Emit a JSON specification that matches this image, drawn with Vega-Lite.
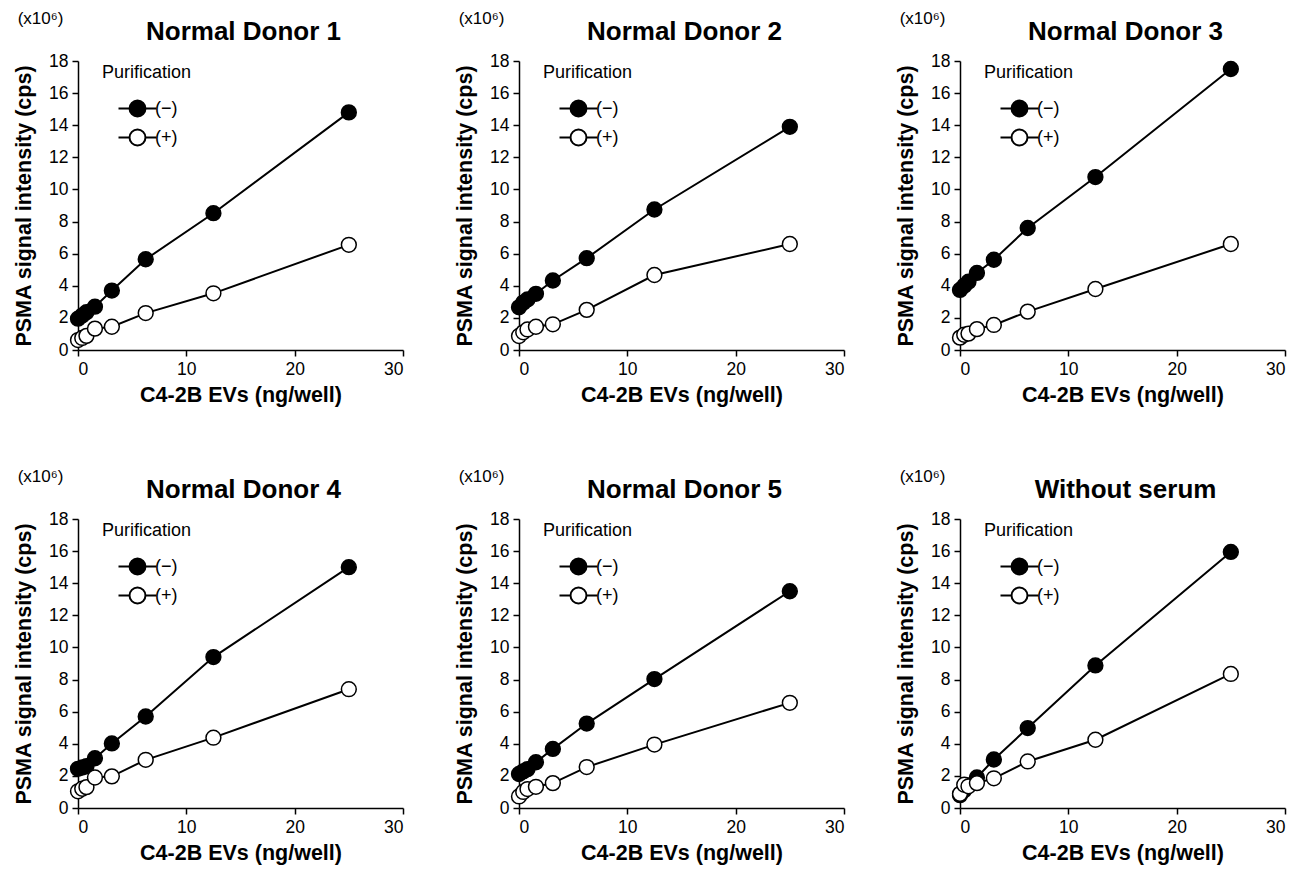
{
  "$schema": "https://vega.github.io/schema/vega-lite/v6.json",
  "background": "white",
  "padding": {"left": 13, "top": 9, "right": 8, "bottom": 5},
  "datasets": {
    "d": [
      {"p":1,"s":"(−)","x":0,"y":1.95},{"p":1,"s":"(−)","x":0.390625,"y":2.15},{"p":1,"s":"(−)","x":0.78125,"y":2.35},{"p":1,"s":"(−)","x":1.5625,"y":2.7},{"p":1,"s":"(−)","x":3.125,"y":3.7},{"p":1,"s":"(−)","x":6.25,"y":5.65},{"p":1,"s":"(−)","x":12.5,"y":8.52},{"p":1,"s":"(−)","x":25,"y":14.8},
      {"p":1,"s":"(+)","x":0,"y":0.62},{"p":1,"s":"(+)","x":0.390625,"y":0.75},{"p":1,"s":"(+)","x":0.78125,"y":0.88},{"p":1,"s":"(+)","x":1.5625,"y":1.33},{"p":1,"s":"(+)","x":3.125,"y":1.45},{"p":1,"s":"(+)","x":6.25,"y":2.3},{"p":1,"s":"(+)","x":12.5,"y":3.53},{"p":1,"s":"(+)","x":25,"y":6.55},
      {"p":2,"s":"(−)","x":0,"y":2.66},{"p":2,"s":"(−)","x":0.390625,"y":2.95},{"p":2,"s":"(−)","x":0.78125,"y":3.15},{"p":2,"s":"(−)","x":1.5625,"y":3.5},{"p":2,"s":"(−)","x":3.125,"y":4.33},{"p":2,"s":"(−)","x":6.25,"y":5.72},{"p":2,"s":"(−)","x":12.5,"y":8.75},{"p":2,"s":"(−)","x":25,"y":13.9},
      {"p":2,"s":"(+)","x":0,"y":0.87},{"p":2,"s":"(+)","x":0.390625,"y":1.1},{"p":2,"s":"(+)","x":0.78125,"y":1.28},{"p":2,"s":"(+)","x":1.5625,"y":1.45},{"p":2,"s":"(+)","x":3.125,"y":1.6},{"p":2,"s":"(+)","x":6.25,"y":2.5},{"p":2,"s":"(+)","x":12.5,"y":4.67},{"p":2,"s":"(+)","x":25,"y":6.6},
      {"p":3,"s":"(−)","x":0,"y":3.74},{"p":3,"s":"(−)","x":0.390625,"y":4.0},{"p":3,"s":"(−)","x":0.78125,"y":4.25},{"p":3,"s":"(−)","x":1.5625,"y":4.8},{"p":3,"s":"(−)","x":3.125,"y":5.62},{"p":3,"s":"(−)","x":6.25,"y":7.6},{"p":3,"s":"(−)","x":12.5,"y":10.77},{"p":3,"s":"(−)","x":25,"y":17.5},
      {"p":3,"s":"(+)","x":0,"y":0.77},{"p":3,"s":"(+)","x":0.390625,"y":0.95},{"p":3,"s":"(+)","x":0.78125,"y":1.02},{"p":3,"s":"(+)","x":1.5625,"y":1.3},{"p":3,"s":"(+)","x":3.125,"y":1.56},{"p":3,"s":"(+)","x":6.25,"y":2.39},{"p":3,"s":"(+)","x":12.5,"y":3.8},{"p":3,"s":"(+)","x":25,"y":6.6},
      {"p":4,"s":"(−)","x":0,"y":2.44},{"p":4,"s":"(−)","x":0.390625,"y":2.52},{"p":4,"s":"(−)","x":0.78125,"y":2.6},{"p":4,"s":"(−)","x":1.5625,"y":3.1},{"p":4,"s":"(−)","x":3.125,"y":4.02},{"p":4,"s":"(−)","x":6.25,"y":5.7},{"p":4,"s":"(−)","x":12.5,"y":9.4},{"p":4,"s":"(−)","x":25,"y":15.0},
      {"p":4,"s":"(+)","x":0,"y":1.04},{"p":4,"s":"(+)","x":0.390625,"y":1.2},{"p":4,"s":"(+)","x":0.78125,"y":1.3},{"p":4,"s":"(+)","x":1.5625,"y":1.9},{"p":4,"s":"(+)","x":3.125,"y":1.97},{"p":4,"s":"(+)","x":6.25,"y":3.0},{"p":4,"s":"(+)","x":12.5,"y":4.38},{"p":4,"s":"(+)","x":25,"y":7.4},
      {"p":5,"s":"(−)","x":0,"y":2.12},{"p":5,"s":"(−)","x":0.390625,"y":2.28},{"p":5,"s":"(−)","x":0.78125,"y":2.42},{"p":5,"s":"(−)","x":1.5625,"y":2.85},{"p":5,"s":"(−)","x":3.125,"y":3.68},{"p":5,"s":"(−)","x":6.25,"y":5.26},{"p":5,"s":"(−)","x":12.5,"y":8.03},{"p":5,"s":"(−)","x":25,"y":13.5},
      {"p":5,"s":"(+)","x":0,"y":0.72},{"p":5,"s":"(+)","x":0.390625,"y":1.0},{"p":5,"s":"(+)","x":0.78125,"y":1.18},{"p":5,"s":"(+)","x":1.5625,"y":1.32},{"p":5,"s":"(+)","x":3.125,"y":1.55},{"p":5,"s":"(+)","x":6.25,"y":2.55},{"p":5,"s":"(+)","x":12.5,"y":3.95},{"p":5,"s":"(+)","x":25,"y":6.55},
      {"p":6,"s":"(−)","x":0,"y":0.8},{"p":6,"s":"(−)","x":0.390625,"y":1.1},{"p":6,"s":"(−)","x":0.78125,"y":1.4},{"p":6,"s":"(−)","x":1.5625,"y":1.9},{"p":6,"s":"(−)","x":3.125,"y":3.02},{"p":6,"s":"(−)","x":6.25,"y":4.98},{"p":6,"s":"(−)","x":12.5,"y":8.88},{"p":6,"s":"(−)","x":25,"y":15.95},
      {"p":6,"s":"(+)","x":0,"y":0.88},{"p":6,"s":"(+)","x":0.390625,"y":1.45},{"p":6,"s":"(+)","x":0.78125,"y":1.35},{"p":6,"s":"(+)","x":1.5625,"y":1.55},{"p":6,"s":"(+)","x":3.125,"y":1.85},{"p":6,"s":"(+)","x":6.25,"y":2.9},{"p":6,"s":"(+)","x":12.5,"y":4.25},{"p":6,"s":"(+)","x":25,"y":8.35}
    ]
  },
  "data": {"name": "d"},
  "columns": 3,
  "spacing": {"row": 61, "column": 50},
  "resolve": {"legend": {"fill": "independent"}},
  "concat": [
    {"title": "Normal Donor 1", "width": 325, "height": 289, "transform": [{"filter": "datum.p == 1"}],
     "encoding": {"x": {"field": "x", "type": "quantitative", "scale": {"domain": [0, 30]}, "axis": {"title": "C4-2B EVs (ng/well)", "values": [0, 10, 20, 30]}}},
     "resolve": {"scale": {"y": "independent"}},
     "layer": [
      {"mark": {"type": "line", "color": "black", "strokeWidth": 2},
       "encoding": {"y": {"field": "y", "type": "quantitative", "scale": {"domain": [0, 18]}, "axis": {"title": "PSMA signal intensity (cps)", "values": [0, 2, 4, 6, 8, 10, 12, 14, 16, 18]}},
                    "detail": {"field": "s"}}},
      {"mark": {"type": "point", "shape": "circle", "filled": true, "stroke": "black", "strokeWidth": 1.5, "size": 220, "opacity": 1},
       "encoding": {"y": {"field": "y", "type": "quantitative", "scale": {"domain": [0, 18]}, "axis": {"orient": "right", "title": "(x10⁶)", "labels": false, "ticks": false, "domain": false, "titleAngle": 0, "titleX": -363, "titleY": -43, "titleAlign": "center", "titleBaseline": "middle", "titleFontWeight": "normal", "titleFontSize": 17}},
                    "fill": {"field": "s", "type": "nominal", "scale": {"domain": ["(−)", "(+)"], "range": ["black", "white"]}, "legend": {"title": "Purification", "orient": "none", "legendX": 24, "legendY": 3}}}}
     ]},
    {"title": "Normal Donor 2", "width": 325, "height": 289, "transform": [{"filter": "datum.p == 2"}],
     "encoding": {"x": {"field": "x", "type": "quantitative", "scale": {"domain": [0, 30]}, "axis": {"title": "C4-2B EVs (ng/well)", "values": [0, 10, 20, 30]}}},
     "resolve": {"scale": {"y": "independent"}},
     "layer": [
      {"mark": {"type": "line", "color": "black", "strokeWidth": 2},
       "encoding": {"y": {"field": "y", "type": "quantitative", "scale": {"domain": [0, 18]}, "axis": {"title": "PSMA signal intensity (cps)", "values": [0, 2, 4, 6, 8, 10, 12, 14, 16, 18]}},
                    "detail": {"field": "s"}}},
      {"mark": {"type": "point", "shape": "circle", "filled": true, "stroke": "black", "strokeWidth": 1.5, "size": 220, "opacity": 1},
       "encoding": {"y": {"field": "y", "type": "quantitative", "scale": {"domain": [0, 18]}, "axis": {"orient": "right", "title": "(x10⁶)", "labels": false, "ticks": false, "domain": false, "titleAngle": 0, "titleX": -363, "titleY": -43, "titleAlign": "center", "titleBaseline": "middle", "titleFontWeight": "normal", "titleFontSize": 17}},
                    "fill": {"field": "s", "type": "nominal", "scale": {"domain": ["(−)", "(+)"], "range": ["black", "white"]}, "legend": {"title": "Purification", "orient": "none", "legendX": 24, "legendY": 3}}}}
     ]},
    {"title": "Normal Donor 3", "width": 325, "height": 289, "transform": [{"filter": "datum.p == 3"}],
     "encoding": {"x": {"field": "x", "type": "quantitative", "scale": {"domain": [0, 30]}, "axis": {"title": "C4-2B EVs (ng/well)", "values": [0, 10, 20, 30]}}},
     "resolve": {"scale": {"y": "independent"}},
     "layer": [
      {"mark": {"type": "line", "color": "black", "strokeWidth": 2},
       "encoding": {"y": {"field": "y", "type": "quantitative", "scale": {"domain": [0, 18]}, "axis": {"title": "PSMA signal intensity (cps)", "values": [0, 2, 4, 6, 8, 10, 12, 14, 16, 18]}},
                    "detail": {"field": "s"}}},
      {"mark": {"type": "point", "shape": "circle", "filled": true, "stroke": "black", "strokeWidth": 1.5, "size": 220, "opacity": 1},
       "encoding": {"y": {"field": "y", "type": "quantitative", "scale": {"domain": [0, 18]}, "axis": {"orient": "right", "title": "(x10⁶)", "labels": false, "ticks": false, "domain": false, "titleAngle": 0, "titleX": -363, "titleY": -43, "titleAlign": "center", "titleBaseline": "middle", "titleFontWeight": "normal", "titleFontSize": 17}},
                    "fill": {"field": "s", "type": "nominal", "scale": {"domain": ["(−)", "(+)"], "range": ["black", "white"]}, "legend": {"title": "Purification", "orient": "none", "legendX": 24, "legendY": 3}}}}
     ]},
    {"title": "Normal Donor 4", "width": 325, "height": 289, "transform": [{"filter": "datum.p == 4"}],
     "encoding": {"x": {"field": "x", "type": "quantitative", "scale": {"domain": [0, 30]}, "axis": {"title": "C4-2B EVs (ng/well)", "values": [0, 10, 20, 30]}}},
     "resolve": {"scale": {"y": "independent"}},
     "layer": [
      {"mark": {"type": "line", "color": "black", "strokeWidth": 2},
       "encoding": {"y": {"field": "y", "type": "quantitative", "scale": {"domain": [0, 18]}, "axis": {"title": "PSMA signal intensity (cps)", "values": [0, 2, 4, 6, 8, 10, 12, 14, 16, 18]}},
                    "detail": {"field": "s"}}},
      {"mark": {"type": "point", "shape": "circle", "filled": true, "stroke": "black", "strokeWidth": 1.5, "size": 220, "opacity": 1},
       "encoding": {"y": {"field": "y", "type": "quantitative", "scale": {"domain": [0, 18]}, "axis": {"orient": "right", "title": "(x10⁶)", "labels": false, "ticks": false, "domain": false, "titleAngle": 0, "titleX": -363, "titleY": -43, "titleAlign": "center", "titleBaseline": "middle", "titleFontWeight": "normal", "titleFontSize": 17}},
                    "fill": {"field": "s", "type": "nominal", "scale": {"domain": ["(−)", "(+)"], "range": ["black", "white"]}, "legend": {"title": "Purification", "orient": "none", "legendX": 24, "legendY": 3}}}}
     ]},
    {"title": "Normal Donor 5", "width": 325, "height": 289, "transform": [{"filter": "datum.p == 5"}],
     "encoding": {"x": {"field": "x", "type": "quantitative", "scale": {"domain": [0, 30]}, "axis": {"title": "C4-2B EVs (ng/well)", "values": [0, 10, 20, 30]}}},
     "resolve": {"scale": {"y": "independent"}},
     "layer": [
      {"mark": {"type": "line", "color": "black", "strokeWidth": 2},
       "encoding": {"y": {"field": "y", "type": "quantitative", "scale": {"domain": [0, 18]}, "axis": {"title": "PSMA signal intensity (cps)", "values": [0, 2, 4, 6, 8, 10, 12, 14, 16, 18]}},
                    "detail": {"field": "s"}}},
      {"mark": {"type": "point", "shape": "circle", "filled": true, "stroke": "black", "strokeWidth": 1.5, "size": 220, "opacity": 1},
       "encoding": {"y": {"field": "y", "type": "quantitative", "scale": {"domain": [0, 18]}, "axis": {"orient": "right", "title": "(x10⁶)", "labels": false, "ticks": false, "domain": false, "titleAngle": 0, "titleX": -363, "titleY": -43, "titleAlign": "center", "titleBaseline": "middle", "titleFontWeight": "normal", "titleFontSize": 17}},
                    "fill": {"field": "s", "type": "nominal", "scale": {"domain": ["(−)", "(+)"], "range": ["black", "white"]}, "legend": {"title": "Purification", "orient": "none", "legendX": 24, "legendY": 3}}}}
     ]},
    {"title": "Without serum", "width": 325, "height": 289, "transform": [{"filter": "datum.p == 6"}],
     "encoding": {"x": {"field": "x", "type": "quantitative", "scale": {"domain": [0, 30]}, "axis": {"title": "C4-2B EVs (ng/well)", "values": [0, 10, 20, 30]}}},
     "resolve": {"scale": {"y": "independent"}},
     "layer": [
      {"mark": {"type": "line", "color": "black", "strokeWidth": 2},
       "encoding": {"y": {"field": "y", "type": "quantitative", "scale": {"domain": [0, 18]}, "axis": {"title": "PSMA signal intensity (cps)", "values": [0, 2, 4, 6, 8, 10, 12, 14, 16, 18]}},
                    "detail": {"field": "s"}}},
      {"mark": {"type": "point", "shape": "circle", "filled": true, "stroke": "black", "strokeWidth": 1.5, "size": 220, "opacity": 1},
       "encoding": {"y": {"field": "y", "type": "quantitative", "scale": {"domain": [0, 18]}, "axis": {"orient": "right", "title": "(x10⁶)", "labels": false, "ticks": false, "domain": false, "titleAngle": 0, "titleX": -363, "titleY": -43, "titleAlign": "center", "titleBaseline": "middle", "titleFontWeight": "normal", "titleFontSize": 17}},
                    "fill": {"field": "s", "type": "nominal", "scale": {"domain": ["(−)", "(+)"], "range": ["black", "white"]}, "legend": {"title": "Purification", "orient": "none", "legendX": 24, "legendY": 3}}}}
     ]}
  ],
  "config": {
    "font": "Liberation Sans",
    "view": {"stroke": null},
    "title": {"fontSize": 26, "fontWeight": "bold", "color": "black", "anchor": "middle", "frame": "group", "offset": -36, "dx": 3, "font": "Liberation Sans"},
    "axis": {"grid": false, "domainColor": "black", "domainWidth": 1.5, "tickColor": "black", "tickWidth": 1.5, "tickSize": 6, "labelFontSize": 17.5, "labelColor": "black", "labelPadding": 4, "titleFontSize": 21.5, "titleFontWeight": "bold", "titleColor": "black", "labelFont": "Liberation Sans", "titleFont": "Liberation Sans"},
    "axisX": {"titlePadding": 7},
    "axisY": {"titlePadding": 13},
    "legend": {"symbolType": "M-2,0H-0.84M0.84,0H2M0.84,0A0.84,0.84,0,1,1,-0.84,0A0.84,0.84,0,1,1,0.84,0Z", "symbolSize": 361, "symbolStrokeColor": "black", "symbolStrokeWidth": 2, "symbolOffset": 25, "labelOffset": 7, "padding": 0, "titlePadding": 16, "rowPadding": 4, "labelFontSize": 18, "titleFontSize": 18, "titleFontWeight": "normal", "labelColor": "black", "titleColor": "black", "labelFont": "Liberation Sans", "titleFont": "Liberation Sans"}
  }
}
